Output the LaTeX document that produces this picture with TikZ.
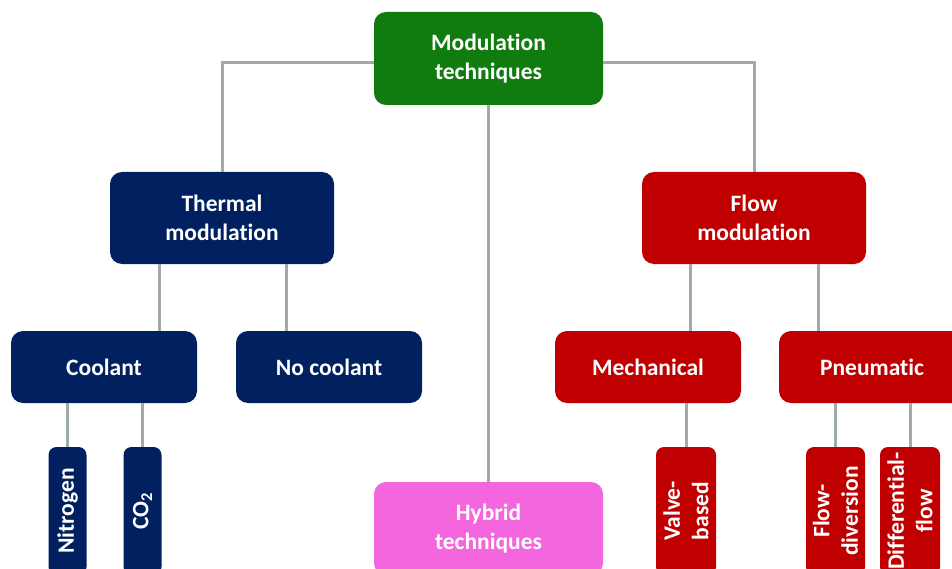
\documentclass[tikz,border=0pt]{standalone}
\usepackage{fontspec}
\setmainfont{Carlito}[Ligatures={NoCommon}]
\definecolor{mgreen}{RGB}{16,124,16}
\definecolor{mnavy}{RGB}{0,32,96}
\definecolor{mred}{RGB}{192,0,0}
\definecolor{mpink}{RGB}{243,102,222}
\definecolor{mgray}{RGB}{160,170,174}
\tikzset{
  box/.style={rounded corners=12pt, text=white, font=\fontsize{23.5}{28.5}\selectfont\bfseries, align=center, inner sep=0pt},
  vbox/.style={box, rounded corners=8pt, rotate=90, minimum width=128pt},
  conn/.style={draw=mgray, line width=3pt},
}
\begin{document}
\begin{tikzpicture}[x=1pt,y=-1pt]
\useasboundingbox (0,0) rectangle (952,569);
\clip (0,0) rectangle (952,569);
% nodes
\node[box, fill=mgreen, minimum width=229pt, minimum height=93pt] (mod) at (488.5,58.5) {Modulation\\techniques};
\node[box, fill=mnavy, minimum width=224pt, minimum height=92pt] (therm) at (222,218) {Thermal\\modulation};
\node[box, fill=mred, minimum width=224pt, minimum height=92pt] (flow) at (754,218) {Flow\\modulation};
\node[box, fill=mnavy, minimum width=186pt, minimum height=72pt] (cool) at (104,367) {Coolant};
\node[box, fill=mnavy, minimum width=186pt, minimum height=72pt] (nocool) at (329,367) {No coolant};
\node[box, fill=mred, minimum width=186pt, minimum height=72pt] (mech) at (648,367) {Mechanical};
\node[box, fill=mred, minimum width=186pt, minimum height=72pt] (pneu) at (872,367) {Pneumatic};
\node[vbox, fill=mnavy, minimum height=38pt] (nit) at (67.5,511) {Nitrogen};
\node[vbox, fill=mnavy, minimum height=38pt] (co2) at (142.5,511) {CO\textsubscript{2}};
\node[vbox, fill=mred, minimum height=60pt] (valve) at (686,511) {Valve-\\based};
\node[vbox, fill=mred, minimum height=59pt] (fdiv) at (835.5,511) {Flow-\\diversion};
\node[vbox, fill=mred, minimum height=60pt] (diff) at (910,511) {Differential-\\flow};
\node[box, fill=mpink, minimum width=229pt, minimum height=93pt] (hyb) at (488.5,528.5) {Hybrid\\techniques};
% connectors
\path[conn] ([yshift=-4.5pt]mod.west) -| (therm.north);
\path[conn] ([yshift=-4.5pt]mod.east) -| (flow.north);
\path[conn] (mod.south) -- (hyb.north);
\path[conn] (therm.south -| 159,0) -- (cool.north -| 159,0);
\path[conn] (therm.south -| 286,0) -- (nocool.north -| 286,0);
\path[conn] (flow.south -| 690,0) -- (mech.north -| 690,0);
\path[conn] (flow.south -| 818,0) -- (pneu.north -| 818,0);
\path[conn] (cool.south -| 67.5,0) -- (nit.east -| 67.5,0);
\path[conn] (cool.south -| 142.5,0) -- (co2.east -| 142.5,0);
\path[conn] (mech.south -| 686,0) -- (valve.east);
\path[conn] (pneu.south -| 835.5,0) -- (fdiv.east);
\path[conn] (pneu.south -| 910,0) -- (diff.east);
\end{tikzpicture}
\end{document}
